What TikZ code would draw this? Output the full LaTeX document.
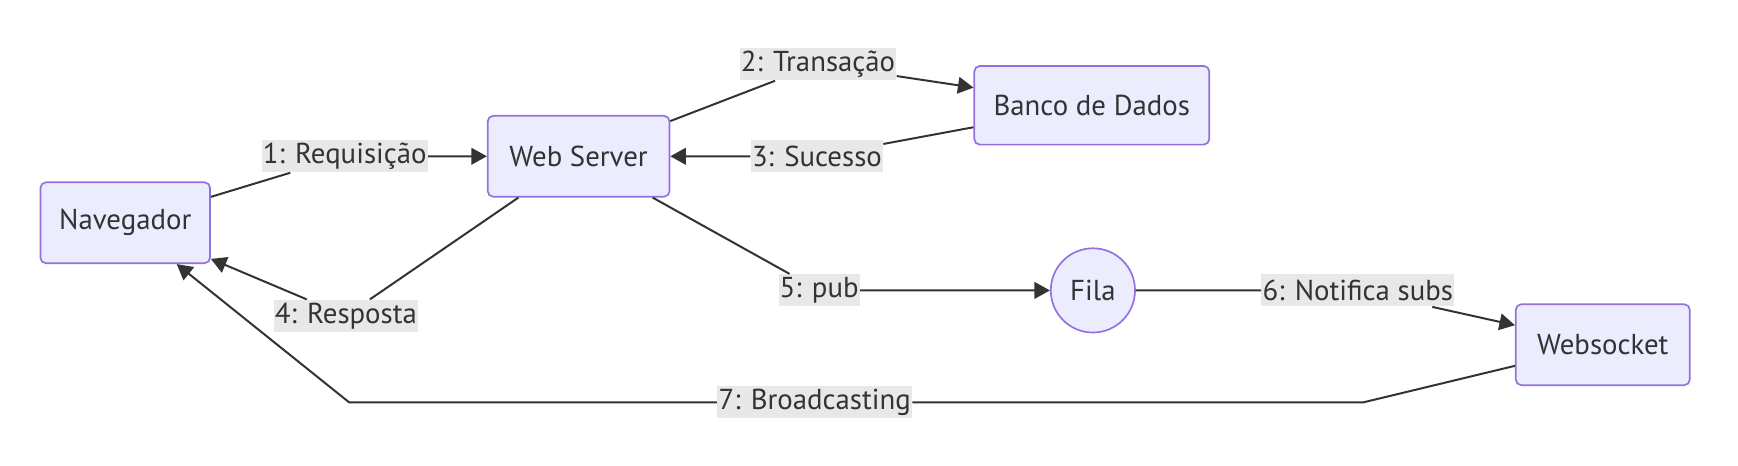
\documentclass[tikz,border=0pt]{standalone}
\usepackage{fontspec}
\setmainfont{PT Sans}
\usetikzlibrary{arrows.meta, positioning, calc}
\definecolor{nodeFill}{HTML}{ECECFF}
\definecolor{nodeLine}{HTML}{9370DB}
\definecolor{edgeColor}{HTML}{333333}
\definecolor{labelFill}{HTML}{E8E8E8}
\tikzstyle{service} = [rectangle, rounded corners=2.5pt, minimum height=36.5pt, text centered, draw=nodeLine, line width=0.75pt, fill=nodeFill, text=edgeColor]
\tikzstyle{queue} = [circle, minimum size=38pt, inner sep=0pt, text centered, draw=nodeLine, line width=0.75pt, fill=nodeFill, text=edgeColor]
\tikzstyle{msg} = [rectangle, fill=labelFill, inner xsep=0.5pt, inner ysep=0pt, minimum height=14.5pt, text=edgeColor]
\tikzstyle{flow} = [line width=0.9pt, draw=edgeColor, -{Triangle[length=7pt,width=7.5pt]}]

\begin{document}
\begin{tikzpicture}[x=0.5pt, y=-0.5pt, font=\fontsize{13pt}{15pt}\selectfont]
				\useasboundingbox (0,0) rectangle (1568,420.4);
				% boxes
				\node (nav) [service, minimum width=76.5pt] at (113,201) {Navegador};
				\node (web) [service, minimum width=82pt] at (522,141) {Web Server};
				\node (db) [service, minimum width=106pt, minimum height=35.5pt] at (985,95) {Banco de Dados};
				\node (fila) [queue] at (986,262) {Fila};
				\node (wsock) [service, minimum width=78.5pt] at (1446,311) {Websocket};
				
				% edge labels
				\node (l1) [msg] at (311,141) {1: Requisição};
				\node (l2) [msg] at (738,58) {2: Transação};
				\node (l3) [msg] at (737,141) {3: Sucesso};
				\node (l4) [msg] at (312,285) {4: Resposta};
				\node (l5) [msg] at (739,262) {5: pub};
				\node (l6) [msg] at (1225,262) {6: Notifica subs};
				\node (l7) [msg] at (735,363) {7: Broadcasting};
				\coordinate (b7r) at (1230,363);
				\coordinate (b7l) at (315,363);
				
				\draw[flow] (nav) -- (l1) -- (web);
				\draw[flow] (web) -- (l2) -- (db);
				\draw[flow] (db) -- (l3) -- (web);
				\draw[flow] (web) -- (l4) -- (nav);
				\draw[flow] (web) -- (l5) -- (fila);
				\draw[flow] (fila) -- (l6) -- (wsock);
				\draw[flow] (wsock) -- (b7r) -- (l7) -- (b7l) -- (nav);
			\end{tikzpicture}
\end{document}
